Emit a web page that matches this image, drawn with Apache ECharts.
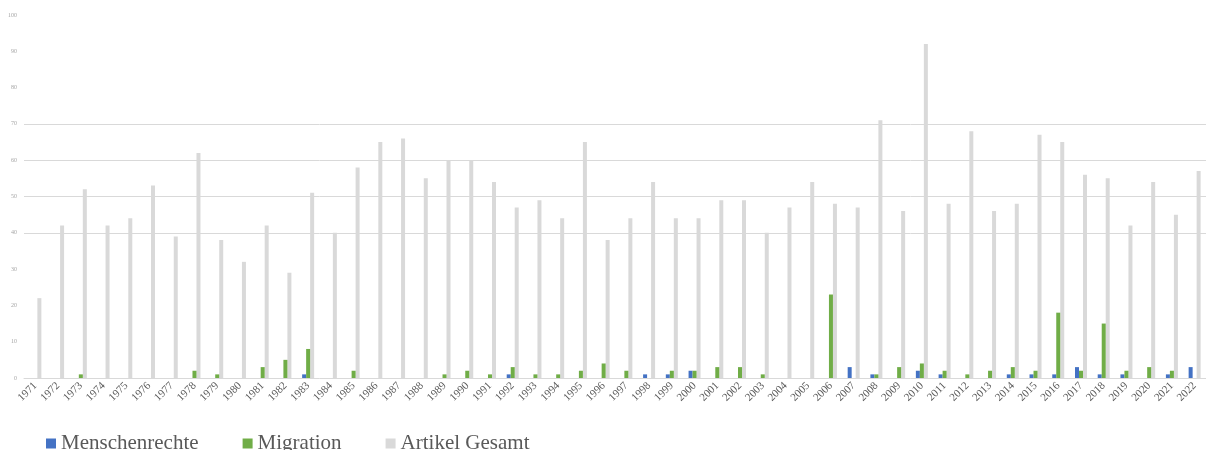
<!DOCTYPE html>
<html>
<head>
<meta charset="utf-8">
<script src="https://cdn.jsdelivr.net/npm/echarts@6/dist/echarts.min.js"></script>
<style>
  html, body { margin: 0; padding: 0; background: #fff; }
  #chart { width: 1206px; height: 450px; }
</style>
</head>
<body>
<div id="chart"></div>
<script>
const years = ['1971','1972','1973','1974','1975','1976','1977','1978','1979','1980',
  '1981','1982','1983','1984','1985','1986','1987','1988','1989','1990',
  '1991','1992','1993','1994','1995','1996','1997','1998','1999','2000',
  '2001','2002','2003','2004','2005','2006','2007','2008','2009','2010',
  '2011','2012','2013','2014','2015','2016','2017','2018','2019','2020',
  '2021','2022'];

const menschenrechte = [0,0,0,0,0,0,0,0,0,0,
  0,0,1,0,0,0,0,0,0,0,
  0,1,0,0,0,0,0,1,1,2,
  0,0,0,0,0,0,3,1,0,2,
  1,0,0,1,1,1,3,1,1,0,
  1,3];

const migration = [0,0,1,0,0,0,0,2,1,0,
  3,5,8,0,2,0,0,0,1,2,
  1,3,1,1,2,4,2,0,2,2,
  3,3,1,0,0,23,0,1,3,4,
  2,1,2,3,2,18,2,15,2,3,
  2,0];

const artikelGesamt = [22,42,52,42,44,53,39,62,38,32,
  42,29,51,40,58,65,66,55,60,60,
  54,47,49,44,65,38,44,54,44,44,
  49,49,40,47,54,48,47,71,46,92,
  48,68,46,48,67,65,56,55,42,54,
  45,57];

const yTicks = [0,10,20,30,40,50,60,70,80,90,100];

const chart = echarts.init(document.getElementById('chart'));
const font = '"Liberation Serif", "DejaVu Serif", serif';

chart.setOption({
  animation: false,
  textStyle: { fontFamily: font },
  grid: { left: 24, right: -5, top: 15, bottom: 72 },
  legend: {
    left: 41,
    top: 428,
    icon: 'rect',
    itemWidth: 10,
    itemHeight: 10,
    itemGap: 44,
    textStyle: { fontFamily: font, fontSize: 21, color: '#595959' },
    data: ['Menschenrechte', 'Migration', 'Artikel Gesamt']
  },
  xAxis: {
    type: 'category',
    data: years,
    axisLine: { lineStyle: { color: '#d9d9d9' } },
    axisTick: { show: false },
    axisLabel: {
      rotate: 45,
      interval: 0,
      margin: 6,
      fontFamily: font,
      fontSize: 11,
      color: '#595959'
    }
  },
  yAxis: {
    type: 'value',
    min: yTicks[0],
    max: yTicks[yTicks.length - 1],
    interval: 10,
    axisLine: { show: false },
    axisTick: { show: false },
    splitLine: { show: false },
    axisLabel: {
      margin: 7,
      fontFamily: font,
      fontSize: 6,
      color: '#a6a6a6'
    }
  },
  series: [
    {
      name: 'Menschenrechte',
      type: 'bar',
      data: menschenrechte,
      barWidth: 4,
      barGap: '0%',
      itemStyle: { color: '#4472C4' }
    },
    {
      name: 'Migration',
      type: 'bar',
      data: migration,
      barWidth: 4,
      barGap: '0%',
      itemStyle: { color: '#70AD47' }
    },
    {
      name: 'Artikel Gesamt',
      type: 'bar',
      data: artikelGesamt,
      barWidth: 4,
      barGap: '0%',
      itemStyle: { color: '#d9d9d9' },
      z: 1,
      markLine: {
        silent: true,
        symbol: 'none',
        label: { show: false },
        lineStyle: { color: '#d9d9d9', type: 'solid', width: 1 },
        data: [{ yAxis: 40 }, { yAxis: 50 }, { yAxis: 60 }, { yAxis: 70 }]
      }
    }
  ]
});
</script>
</body>
</html>
